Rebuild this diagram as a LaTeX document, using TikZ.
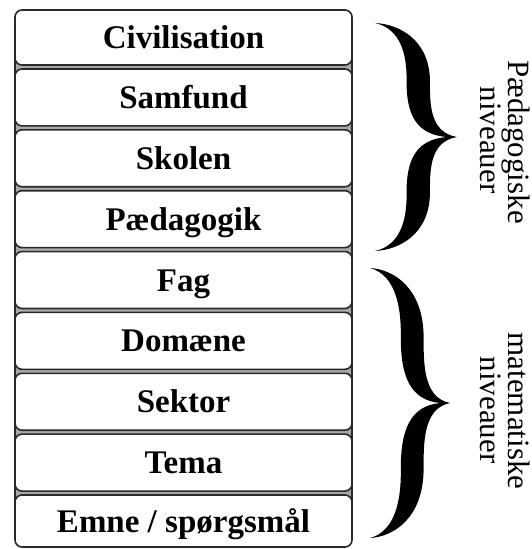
\documentclass[tikz,border=0pt]{standalone}
\usepackage{fontspec}
\setmainfont{Liberation Serif}
\definecolor{edge}{HTML}{2A2A2A}
\definecolor{joint}{HTML}{A8A8A8}
\begin{document}
\begin{tikzpicture}[x=1pt,y=-1pt,
  levelbox/.style={draw=edge, line width=1.6pt, fill=white, rounded corners=7pt,
    minimum width=337pt, inner sep=0pt, text height=22pt, text depth=0pt,
    font=\fontsize{33}{36}\selectfont\bfseries},
  sidelabel/.style={rotate=-90, anchor=base, inner sep=0pt,
    font=\fontsize{31}{33}\selectfont},
  bracefill/.style={fill=black, draw=none}]
\useasboundingbox (0,0) rectangle (531,549);

% grey strip showing between the stacked boxes
\fill[joint] (15,37.5) rectangle (352,521);
\draw[edge, line width=1.2pt] (15,37.5) -- (15,521) (352,37.5) -- (352,521);

% the nine levels
\node[levelbox, minimum height=55pt]   (civ) at (183.5,37.5)  {Civilisation};
\node[levelbox, minimum height=56.9pt] (sam) at (183.5,97.45) {Samfund};
\node[levelbox, minimum height=56.9pt] (sko) at (183.5,158.3) {Skolen};
\node[levelbox, minimum height=56.9pt] (ped) at (183.5,219.15) {Pædagogik};
\node[levelbox, minimum height=56.9pt] (fag) at (183.5,280)   {Fag};
\node[levelbox, minimum height=56.9pt] (dom) at (183.5,340.85) {Domæne};
\node[levelbox, minimum height=56.9pt] (sek) at (183.5,401.75) {Sektor};
\node[levelbox, minimum height=56.9pt] (tem) at (183.5,462.6) {Tema};
\node[levelbox, minimum height=52pt]   (emn) at (183.5,521)   {Emne / spørgsmål};

% curly brace, drawn in unit coordinates: ends at x=0, tip at (1,0), y from -1 to 1
\newcommand{\bracepath}{%
  (0,-1) .. controls (0.3,-0.99) and (0.66,-0.85) .. (0.67,-0.5)
  .. controls (0.67,-0.3) and (0.66,-0.04) .. (1,0)
  .. controls (0.66,0.04) and (0.67,0.3) .. (0.67,0.5)
  .. controls (0.66,0.85) and (0.3,0.99) .. (0,1)
  .. controls (0.25,0.96) and (0.39,0.8) .. (0.385,0.5)
  .. controls (0.38,0.2) and (0.5,0.02) .. (0.88,0)
  .. controls (0.5,-0.02) and (0.38,-0.2) .. (0.385,-0.5)
  .. controls (0.39,-0.8) and (0.25,-0.96) .. (0,-1) -- cycle}

\begin{scope}[shift={(375,137)}, xscale=82, yscale=114]
  \fill[bracefill] \bracepath;
\end{scope}
\begin{scope}[shift={(370,403)}, xscale=80, yscale=135]
  \fill[bracefill] \bracepath;
\end{scope}

% group labels
\node[sidelabel] (pedA) at (508,142) {Pædagogiske};
\node[sidelabel] (pedB) at (480,140) {niveauer};
\node[sidelabel] (matA) at (508,411) {matematiske};
\node[sidelabel] (matB) at (480,410) {niveauer};
\end{tikzpicture}
\end{document}
